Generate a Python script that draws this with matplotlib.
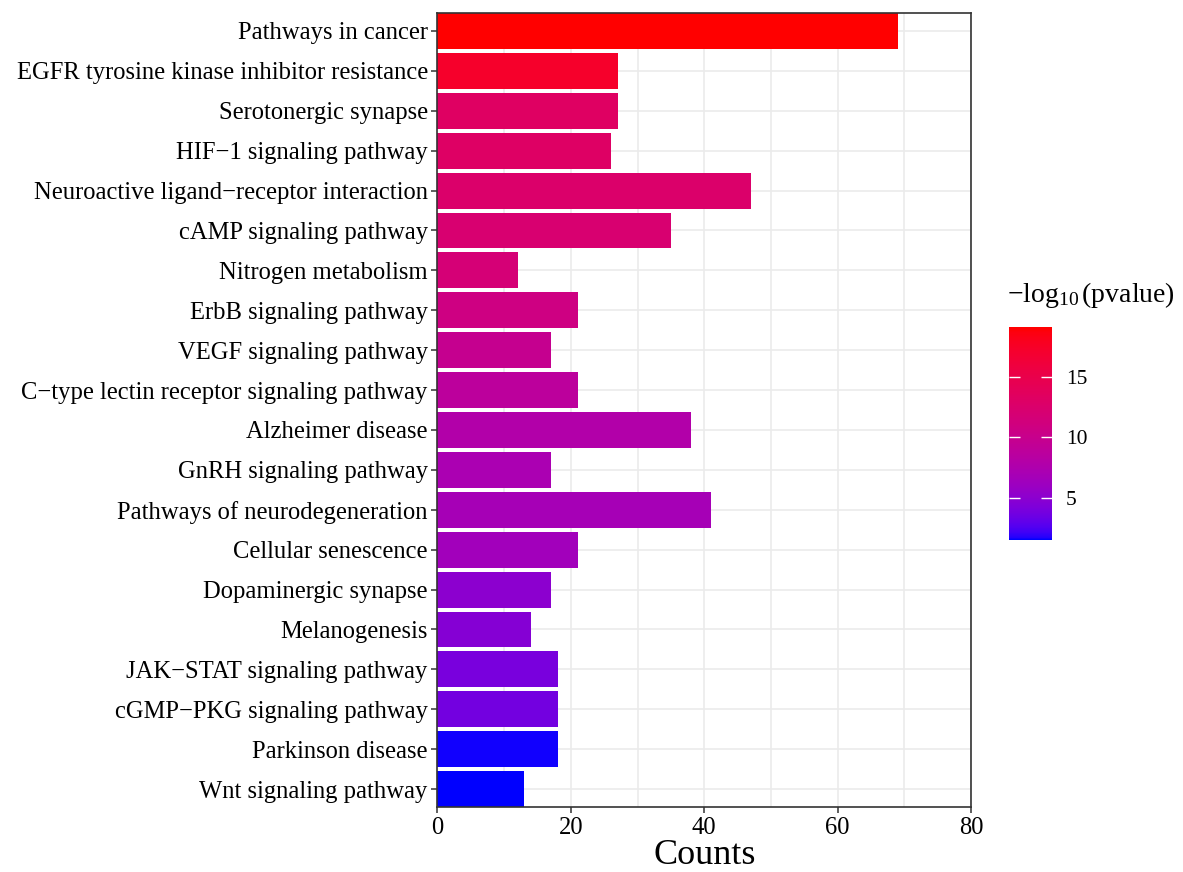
import numpy as np
from matplotlib import pyplot as plt
from matplotlib.colors import ListedColormap, Normalize
from matplotlib.cm import ScalarMappable

# KEGG pathways, top to bottom as shown
pathways = [
    'Pathways in cancer',
    'EGFR tyrosine kinase inhibitor resistance',
    'Serotonergic synapse',
    'HIF\u22121 signaling pathway',
    'Neuroactive ligand\u2212receptor interaction',
    'cAMP signaling pathway',
    'Nitrogen metabolism',
    'ErbB signaling pathway',
    'VEGF signaling pathway',
    'C\u2212type lectin receptor signaling pathway',
    'Alzheimer disease',
    'GnRH signaling pathway',
    'Pathways of neurodegeneration',
    'Cellular senescence',
    'Dopaminergic synapse',
    'Melanogenesis',
    'JAK\u2212STAT signaling pathway',
    'cGMP\u2212PKG signaling pathway',
    'Parkinson disease',
    'Wnt signaling pathway',
]
counts = [69, 27, 27, 26, 47, 35, 12, 21, 17, 21, 38, 17, 41, 21, 17, 14, 18, 18, 18, 13]
neglog_p = [19.1, 17.3, 13.3, 13.1, 12.7, 12.2, 11.7, 10.8, 9.8, 8.8,
            7.8, 7.2, 6.8, 6.5, 5.0, 4.6, 4.0, 3.7, 1.6, 1.5]
xticks = [0, 20, 40, 60, 80]
cbar_ticks = [5, 10, 15]

# blue -> red gradient interpolated in Lab space (like ggplot2)
WHITE = np.array([0.95047, 1.0, 1.08883])
M = np.array([[0.4124, 0.3576, 0.1805],
              [0.2126, 0.7152, 0.0722],
              [0.0193, 0.1192, 0.9505]])


def srgb_to_lab(rgb):
    c = np.asarray(rgb, float)
    lin = np.where(c <= 0.04045, c / 12.92, ((c + 0.055) / 1.055) ** 2.4)
    xyz = M @ lin / WHITE
    f = np.where(xyz > 0.008856, np.cbrt(xyz), 7.787 * xyz + 16 / 116)
    return np.array([116 * f[1] - 16, 500 * (f[0] - f[1]), 200 * (f[1] - f[2])])


def lab_to_srgb(lab):
    L, a, b = lab
    fy = (L + 16) / 116
    fx = fy + a / 500
    fz = fy - b / 200
    f = np.array([fx, fy, fz])
    xyz = np.where(f ** 3 > 0.008856, f ** 3, (f - 16 / 116) / 7.787) * WHITE
    lin = np.linalg.solve(M, xyz)
    lin = np.clip(lin, 0, 1)
    c = np.where(lin <= 0.0031308, 12.92 * lin, 1.055 * lin ** (1 / 2.4) - 0.055)
    return np.clip(c, 0, 1)


lab_lo = srgb_to_lab([0, 0, 1])
lab_hi = srgb_to_lab([1, 0, 0])
cmap = ListedColormap([lab_to_srgb(lab_lo * (1 - t) + lab_hi * t)
                       for t in np.linspace(0, 1, 256)])
norm = Normalize(vmin=min(neglog_p), vmax=max(neglog_p))

plt.rcParams['font.family'] = ['Liberation Serif', 'DejaVu Serif']
plt.rcParams['mathtext.fontset'] = 'custom'
plt.rcParams['mathtext.rm'] = 'Liberation Serif'
plt.rcParams['mathtext.it'] = 'Liberation Serif:italic'

fig = plt.figure(figsize=(11.83, 8.72), dpi=100)
ax = fig.add_axes([0.3698, 0.0745, 0.451, 0.9106])

n = len(pathways)
ypos = np.arange(n)
ax.barh(ypos, counts, height=0.9, color=cmap(norm(neglog_p)), zorder=3)

ax.set_ylim(n - 0.55, -0.45)
ax.set_xlim(0, 80)
ax.set_yticks(ypos)
ax.set_yticklabels(pathways, fontsize=17.7, color='black')
ax.set_xticks(xticks)
ax.set_xticklabels([str(v) for v in xticks], fontsize=17.7, color='black')
ax.set_xticks([10, 30, 50, 70], minor=True)
ax.tick_params(axis='both', which='major', length=4, width=1.1, color='#333333', pad=3)
ax.tick_params(axis='x', which='minor', length=0)

ax.grid(True, which='major', color='#EBEBEB', lw=1.2, zorder=0)
ax.grid(True, which='minor', axis='x', color='#EBEBEB', lw=1.2, zorder=0)
ax.set_axisbelow(True)
for s in ax.spines.values():
    s.set_color('#333333')
    s.set_linewidth(1.2)
    s.set_zorder(4)

ax.set_xlabel('Counts', fontsize=26, labelpad=0)

# colour bar
cax = fig.add_axes([0.853, 0.3807, 0.0364, 0.244])
sm = ScalarMappable(norm=norm, cmap=cmap)
cb = fig.colorbar(sm, cax=cax, ticks=cbar_ticks)
cb.outline.set_visible(False)
cax.tick_params(left=True, right=True, labelleft=False, labelright=True,
                direction='in', length=8, width=1, color='white',
                labelsize=15.5, pad=10)
fig.text(0.851, 0.662, r'$-\log_{10}$(pvalue)', fontsize=20, ha='left', va='center')

fig.savefig('out.png', dpi=100)
